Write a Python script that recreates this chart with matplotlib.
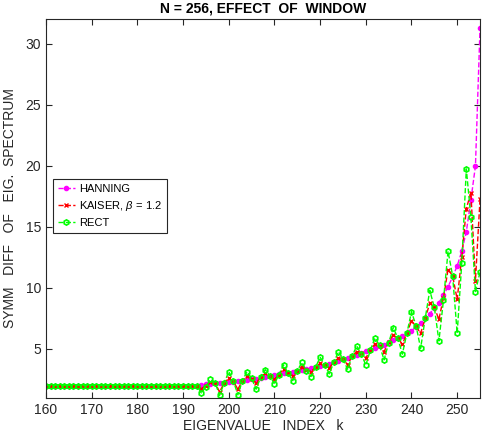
import numpy as np
import matplotlib
matplotlib.use("Agg")
import matplotlib.pyplot as plt

plt.rcParams['font.family'] = ['Liberation Sans', 'DejaVu Sans']
plt.rcParams['mathtext.fontset'] = 'custom'
plt.rcParams['mathtext.it'] = 'Liberation Sans:italic'

# eigenvalue index
k = np.arange(160, 256)

# flat part of the spectrum difference (k = 160..192)
flat = [2.0] * 33

hanning = flat + [
    2.0, 2.05, 2.1, 2.15, 2.2, 2.25, 2.25, 2.3, 2.3, 2.35,
    2.4, 2.45, 2.5, 2.55, 2.65, 2.7, 2.8, 2.85, 2.95, 3.0,
    3.05, 3.1, 3.2, 3.3, 3.35, 3.45, 3.55, 3.6, 3.7, 3.8,
    3.95, 4.05, 4.15, 4.25, 4.4, 4.5, 4.65, 4.8, 4.95, 5.05,
    5.2, 5.35, 5.55, 5.7, 5.9, 6.1, 6.3, 6.5, 6.8, 7.1,
    7.5, 7.9, 8.35, 8.8, 9.4, 10.1, 10.9, 11.8, 13.0, 14.6,
    17.2, 20.0, 31.3]

kaiser = flat + [
    2.0, 1.75, 2.0, 2.3, 2.2, 1.5, 2.2, 2.6, 2.35, 1.7,
    2.4, 2.8, 2.55, 2.2, 2.7, 3.0, 2.8, 2.5, 2.9, 3.35,
    3.05, 2.75, 3.2, 3.55, 3.3, 3.15, 3.5, 3.83, 3.7, 3.42,
    3.95, 4.24, 4.2, 3.7, 4.4, 4.78, 4.65, 4.24, 4.95, 5.4,
    5.25, 4.78, 5.55, 6.14, 5.9, 5.38, 6.3, 7.3, 6.85, 6.28,
    7.5, 8.73, 8.4, 7.42, 9.2, 11.5, 11.0, 9.06, 12.5, 16.5,
    17.8, 10.6, 17.3]

rect = flat + [
    2.0, 1.4, 1.9, 2.5, 2.25, 1.2, 2.2, 3.15, 2.4, 1.24,
    2.4, 3.15, 2.6, 1.7, 2.7, 3.3, 2.8, 2.14, 2.9, 3.7,
    3.0, 2.4, 3.2, 3.9, 3.2, 2.74, 3.5, 4.32, 3.7, 2.96,
    3.9, 4.78, 4.2, 3.34, 4.4, 5.24, 4.6, 3.67, 4.9, 5.92,
    5.3, 4.1, 5.5, 6.74, 5.9, 4.57, 6.3, 8.05, 6.9, 5.05,
    7.5, 9.8, 8.4, 5.65, 9.0, 13.0, 11.0, 6.28, 12.0, 19.75,
    15.8, 9.7, 11.3]

fig = plt.figure(figsize=(4.82, 4.40), dpi=100)
ax = fig.add_axes([0.0954, 0.096, 0.9005, 0.860])

ax.plot(k, hanning, '--', color='#ff00ff', marker='.', markersize=6,
        linewidth=1, label='HANNING')
ax.plot(k, kaiser, '--', color='#ff0000', marker='x', markersize=3.2,
        markeredgewidth=1, linewidth=1, label=r'KAISER, $\beta$ = 1.2')
ax.plot(k, rect, '--', color='#00ff00', marker='h', markersize=3.8,
        markerfacecolor='none', markeredgewidth=1.2, linewidth=1,
        label='RECT')

ax.set_xlim(160, 255)
ax.set_ylim(1.0, 32)
ax.set_xticks(range(160, 251, 10))
ax.set_yticks(range(5, 31, 5))

ax.tick_params(direction='in', top=True, right=True, length=4,
               labelsize=10, colors='#262626')
for s in ax.spines.values():
    s.set_color('#262626')
    s.set_linewidth(0.8)

ax.set_title('N = 256, EFFECT  OF  WINDOW', fontsize=10, fontweight='bold', pad=5)
ax.set_xlabel('EIGENVALUE   INDEX   k', fontsize=10, color='#262626', labelpad=2)
ax.set_ylabel('SYMM   DIFF   OF   EIG.  SPECTRUM', fontsize=10,
              color='#262626', labelpad=6)

leg = ax.legend(loc='upper left', bbox_to_anchor=(0.016, 0.578), fontsize=8,
                fancybox=False, framealpha=1, edgecolor='#262626',
                handlelength=1.5, handletextpad=0.4, borderpad=0.45,
                labelspacing=0.45, borderaxespad=0)
leg.get_frame().set_linewidth(0.8)

fig.savefig('out.png', dpi=100)
